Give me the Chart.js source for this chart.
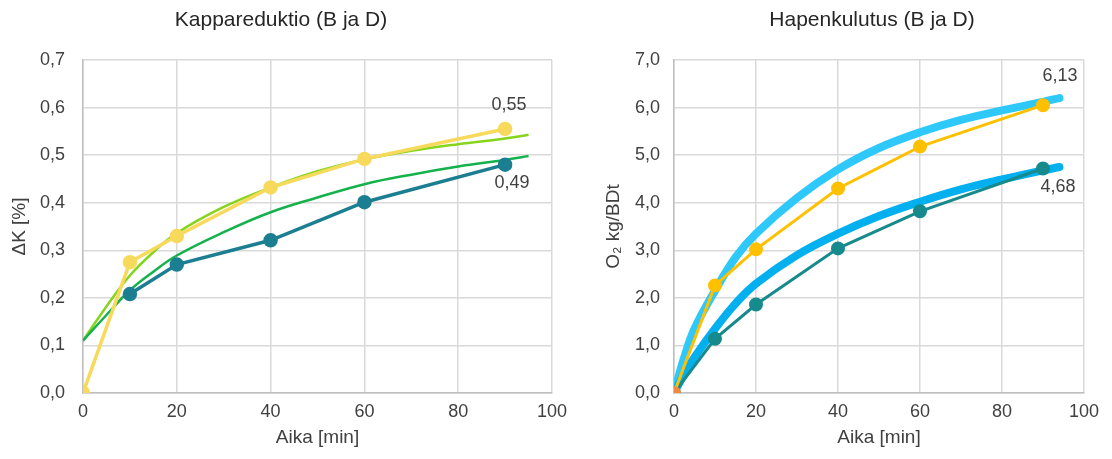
<!DOCTYPE html>
<html>
<head>
<meta charset="utf-8">
<script src="https://cdn.jsdelivr.net/npm/chart.js@4"></script>
<style>
    body { margin: 0; background: #fff; }
    .wrap { position: absolute; top: 0; height: 459px; }
</style>
</head>
<body>
<div class="wrap" style="left:0"><canvas id="kappa" width="600" height="459"></canvas></div>
<div class="wrap" style="left:556px"><canvas id="happi" width="556" height="459"></canvas></div>
<script>
// mitatut pisteet
const aikaB = [0, 10, 20, 40, 60, 90];
const kappaB = [0, 0.275, 0.33, 0.432, 0.492, 0.555];
const aikaD = [10, 20, 40, 60, 90];
const kappaD = [0.208, 0.27, 0.321, 0.401, 0.48];

// trendiviivat (luettu kuvasta)
const trendAika = [0, 5, 10, 15, 20, 30, 40, 50, 60, 70, 80, 90, 95];
const kappaTrendB = [0.11, 0.182, 0.247, 0.296, 0.336, 0.391, 0.432, 0.466, 0.491, 0.509, 0.523, 0.535, 0.543];
const kappaTrendD = [0.11, 0.164, 0.216, 0.255, 0.289, 0.338, 0.38, 0.411, 0.439, 0.459, 0.476, 0.49, 0.498];

const o2Aika = [0, 10, 20, 40, 60, 90];
const o2B = [0, 2.26, 3.02, 4.3, 5.18, 6.05];
const o2D = [0, 1.14, 1.86, 3.04, 3.82, 4.72];

const o2TrendAika = [0, 2.5, 5, 10, 15, 20, 30, 40, 50, 60, 70, 80, 90, 94];
const o2TrendB = [0, 0.75, 1.35, 2.15, 2.85, 3.35, 4.1, 4.7, 5.15, 5.48, 5.74, 5.94, 6.12, 6.2];
const o2TrendD = [0, 0.4, 0.75, 1.35, 1.88, 2.3, 2.9, 3.35, 3.72, 4.02, 4.28, 4.49, 4.68, 4.75];

const pisteet = (xs, ys) => xs.map((x, i) => ({ x: x, y: ys[i] }));
const fontti = "'Liberation Sans', Arial, sans-serif";

// otsikko ja arvot viimeisen pisteen viereen
const tekstit = {
    id: "tekstit",
    afterDatasetsDraw(chart, args, opts) {
        const ctx = chart.ctx;
        ctx.save();
        ctx.textAlign = "center";
        ctx.textBaseline = "middle";
        ctx.font = "21px " + fontti;
        ctx.fillStyle = "#262626";
        ctx.fillText(opts.otsikko, opts.otsikkoX, 20);
        ctx.font = "18px " + fontti;
        ctx.fillStyle = "#404040";
        opts.items.forEach((it) => {
            const x = chart.scales.x.getPixelForValue(it.x);
            const y = chart.scales.y.getPixelForValue(it.y);
            ctx.fillText(it.text, x + it.dx, y + it.dy);
        });
        ctx.restore();
    },
};

function asetukset(otsikko, otsikkoX, yOtsikko, yMax, yStep, padLeft, leftW, tickPad, padRight, arvot) {
    return {
        responsive: false,
        animation: false,
        layout: { padding: { left: padLeft, right: padRight, top: 60, bottom: 6 } },
        scales: {
            x: {
                type: "linear",
                min: 0,
                max: 100,
                ticks: { stepSize: 20, maxRotation: 0, color: "#404040", font: { family: fontti, size: 18 }, padding: 8 },
                grid: { color: "#d9d9d9", lineWidth: 1.5, drawTicks: false },
                border: { color: "#bfbfbf", width: 1.5 },
                title: { display: true, text: "Aika [min]", color: "#404040", font: { family: fontti, size: 19 }, padding: { top: 2 } },
                afterFit: function (s) { s.height = 60; },
            },
            y: {
                min: 0,
                max: yMax,
                ticks: {
                    stepSize: yStep,
                    color: "#404040",
                    font: { family: fontti, size: 18 },
                    padding: tickPad,
                    callback: (v) => v.toFixed(1).replace(".", ","),
                },
                grid: { color: "#d9d9d9", lineWidth: 1.5, drawTicks: false },
                border: { color: "#bfbfbf", width: 1.5 },
                title: { display: true, text: yOtsikko, color: "#404040", font: { family: fontti, size: 19 }, padding: 0 },
                afterFit: function (s) { s.width = leftW; },
            },
        },
        plugins: {
            legend: { display: false },
            tooltip: { enabled: false },
            title: { display: false },
            tekstit: { otsikko: otsikko, otsikkoX: otsikkoX, items: arvot },
        },
    };
}

new Chart(document.getElementById("kappa"), {
    type: "scatter",
    data: {
        datasets: [
            {
                data: pisteet(aikaB, kappaB),
                showLine: true,
                borderColor: "#f7da5c",
                backgroundColor: "#f7da5c",
                borderWidth: 3.5,
                pointRadius: 5.5,
            },
            {
                data: pisteet(aikaD, kappaD),
                showLine: true,
                borderColor: "#1b7f91",
                backgroundColor: "#1b7f91",
                borderWidth: 3.5,
                pointRadius: 5.5,
            },
            {
                data: pisteet(trendAika, kappaTrendD),
                showLine: true,
                borderColor: "#14b14c",
                borderWidth: 2.5,
                pointRadius: 0,
                tension: 0.4,
            },
            {
                data: pisteet(trendAika, kappaTrendB),
                showLine: true,
                borderColor: "#86d41c",
                borderWidth: 2.5,
                pointRadius: 0,
                tension: 0.4,
            },
        ],
    },
    options: asetukset("Kappareduktio (B ja D)", 281, "\u0394K [%]", 0.7, 0.1, 8, 75, 18, 48, [
        { x: 90, y: 0.555, text: "0,55", dx: 4, dy: -24 },
        { x: 90, y: 0.48, text: "0,49", dx: 7, dy: 18 },
    ]),
    plugins: [tekstit],
});

new Chart(document.getElementById("happi"), {
    type: "scatter",
    data: {
        datasets: [
            {
                data: pisteet(o2Aika, o2B),
                showLine: true,
                borderColor: "#ffc000",
                backgroundColor: ["#f08a3c", "#ffc000", "#ffc000", "#ffc000", "#ffc000", "#ffc000"],
                borderWidth: 3,
                pointRadius: 5.5,
                pointBorderColor: ["#f08a3c", "#ffc000", "#ffc000", "#ffc000", "#ffc000", "#ffc000"],
            },
            {
                data: pisteet(o2Aika, o2D),
                showLine: true,
                borderColor: "#168a8c",
                backgroundColor: "#168a8c",
                borderWidth: 3,
                pointRadius: 5.5,
            },
            {
                data: pisteet(o2TrendAika, o2TrendD),
                showLine: true,
                borderColor: "#02b0ef",
                borderWidth: 8,
                pointRadius: 0,
                tension: 0.4,
                borderCapStyle: "round",
            },
            {
                data: pisteet(o2TrendAika, o2TrendB),
                showLine: true,
                borderColor: "#2ec8fb",
                borderWidth: 8,
                pointRadius: 0,
                tension: 0.4,
                borderCapStyle: "round",
            },
        ],
    },
    options: asetukset("Hapenkulutus (B ja D)", 316, "O\u2082 kg/BDt", 7, 1, 46, 72, 14, 28, [
        { x: 90, y: 6.05, text: "6,13", dx: 17, dy: -29 },
        { x: 90, y: 4.72, text: "4,68", dx: 15, dy: 19 },
    ]),
    plugins: [tekstit],
});
</script>
</body>
</html>
